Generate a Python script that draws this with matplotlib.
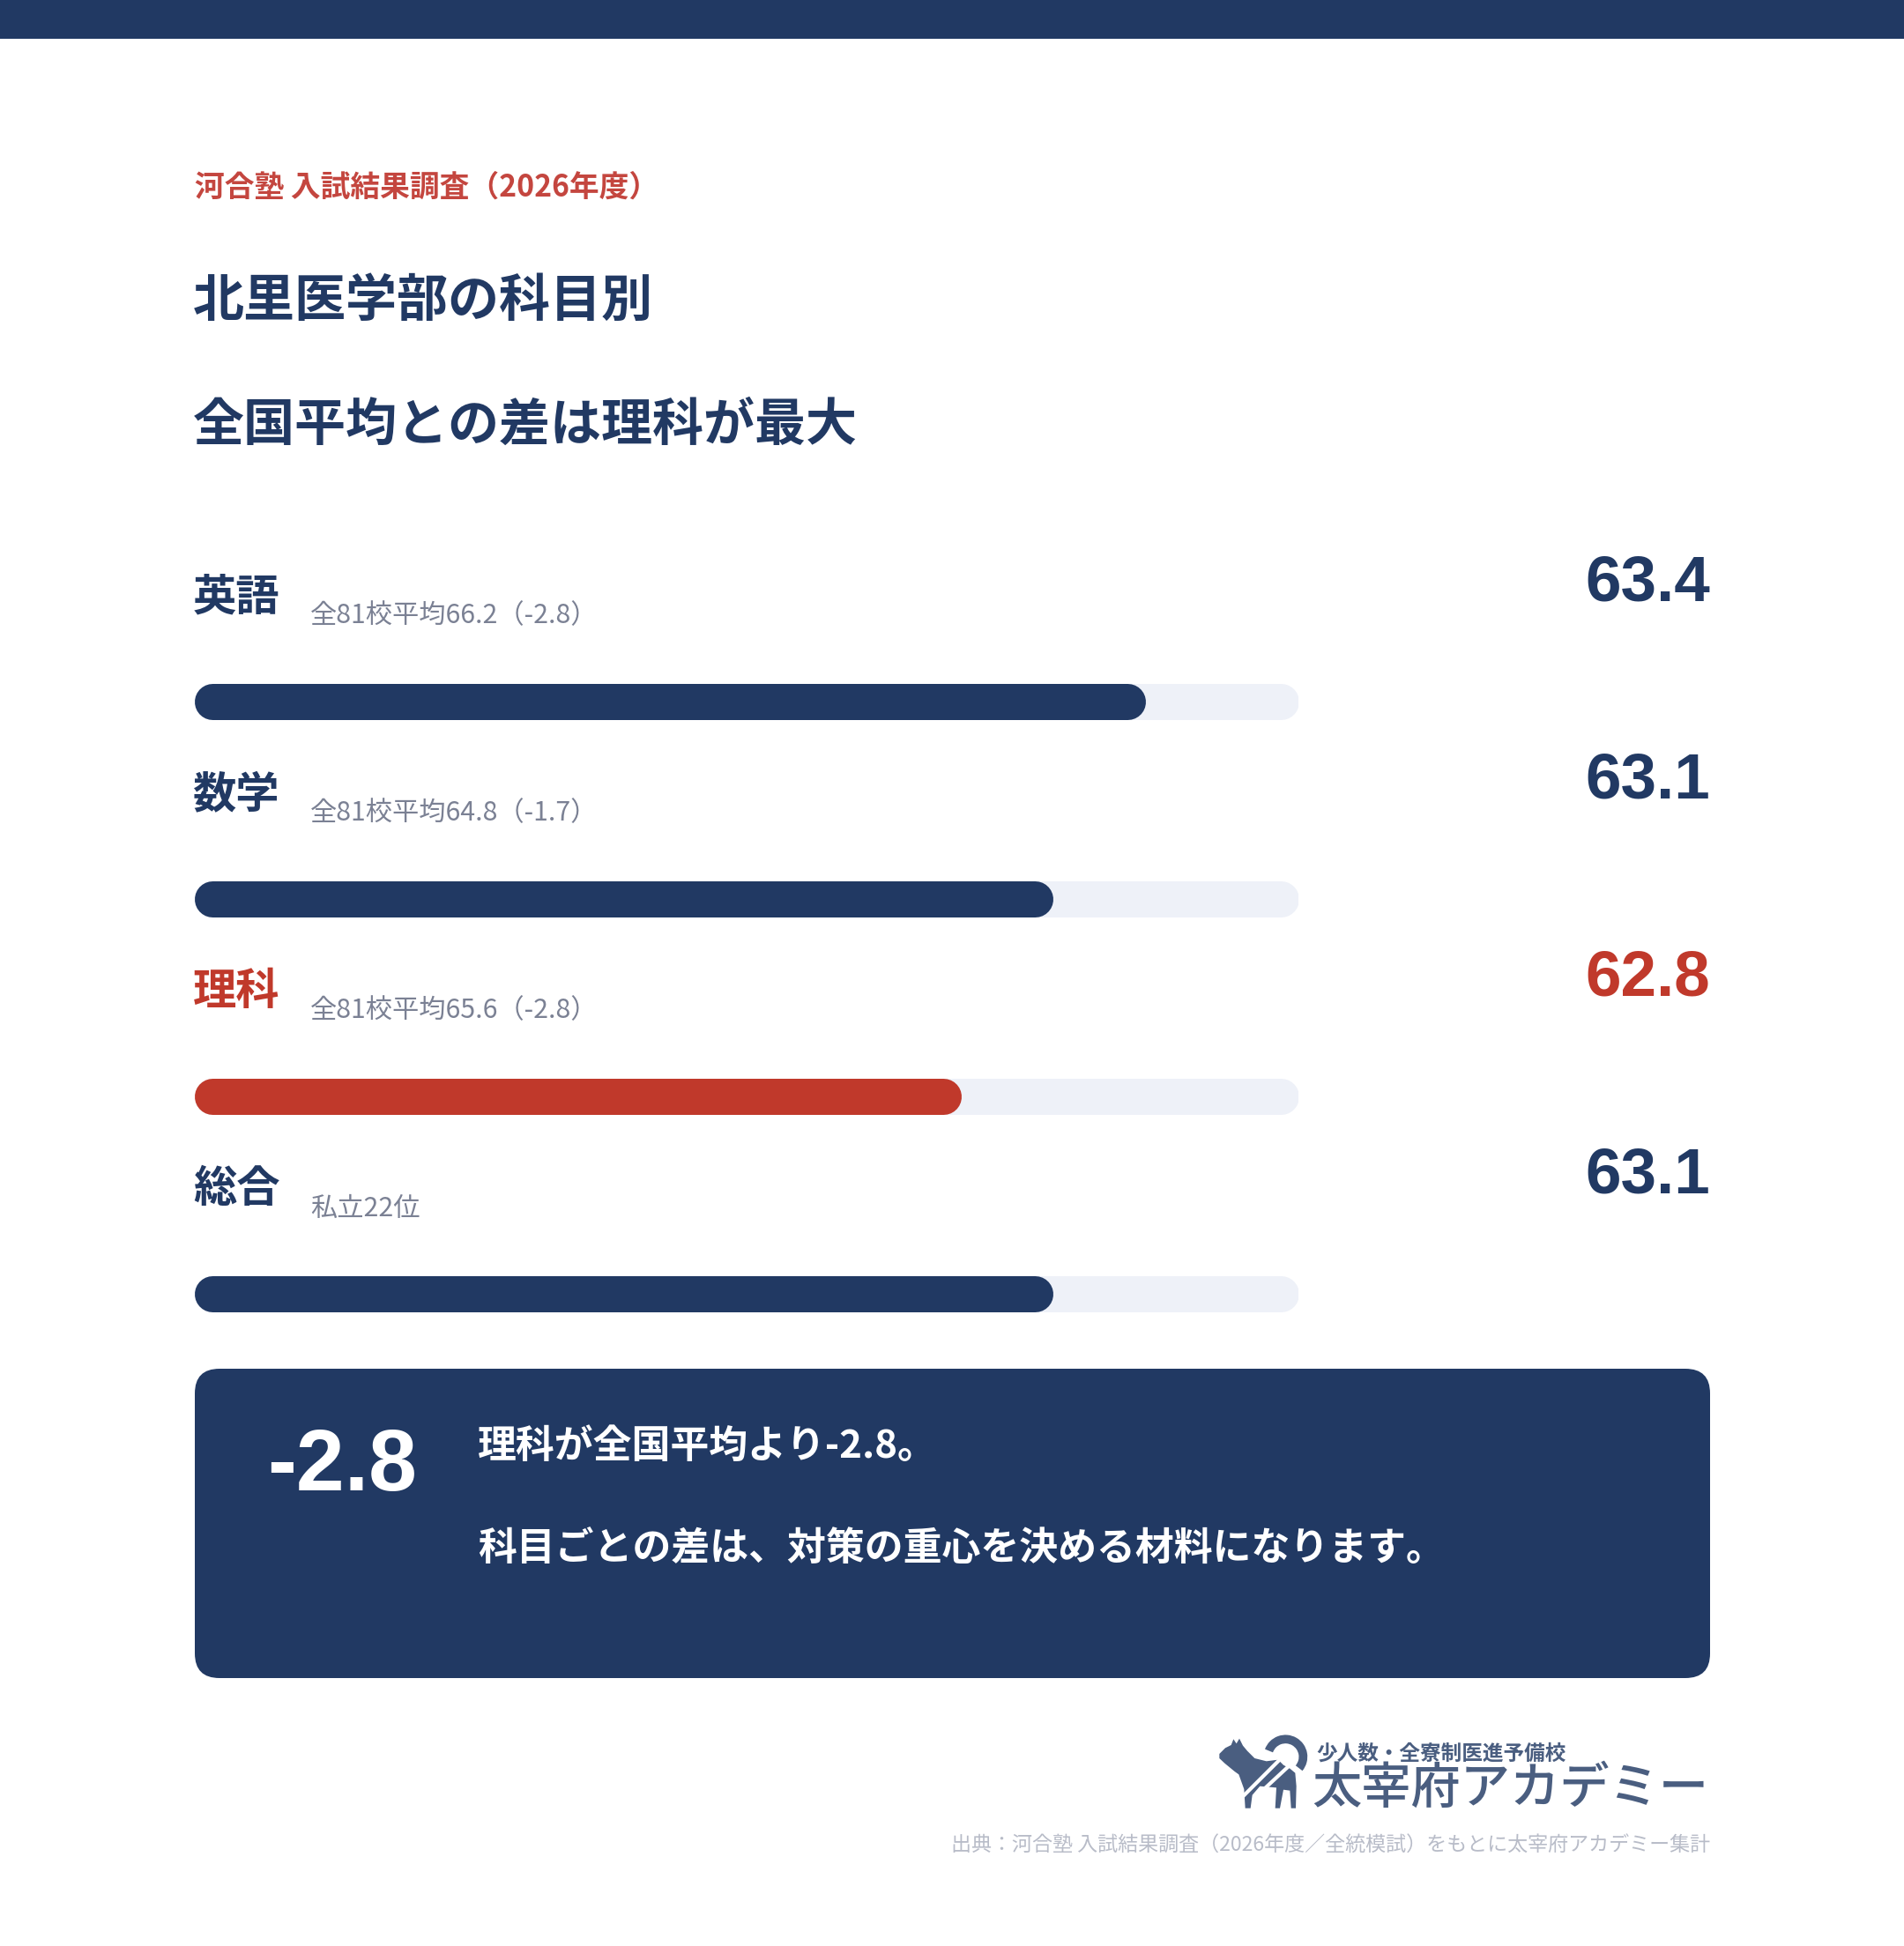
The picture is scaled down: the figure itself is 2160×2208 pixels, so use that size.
import matplotlib
matplotlib.use("Agg")
import matplotlib.pyplot as plt
from matplotlib.patches import FancyBboxPatch, Rectangle, Polygon, Arc

plt.rcParams['font.family'] = ['Noto Sans CJK JP', 'DejaVu Sans']

# データ
subjects = ['英語', '数学', '理科', '総合']
scores = [63.4, 63.1, 62.8, 63.1]
notes = ['全81校平均66.2（-2.8）', '全81校平均64.8（-1.7）', '全81校平均65.6（-2.8）', '私立22位']
highlight = [False, False, True, False]
scale_lo, scale_hi = 60.3, 63.9

source = '河合塾 入試結果調査（2026年度）'
title_lines = ['北里医学部の科目別', '全国平均との差は理科が最大']
box_value = '-2.8'
box_lines = ['理科が全国平均より-2.8。', '科目ごとの差は、対策の重心を決める材料になります。']
footer = '出典：河合塾 入試結果調査（2026年度／全統模試）をもとに太宰府アカデミー集計'

NAVY = '#213963'
RED = '#C0392B'
TRACK = '#EEF1F8'
GRAY = '#7B8194'
LOGO = '#4A5E80'

W, H = 2160, 2208
fig = plt.figure(figsize=(W / 100, H / 100), dpi=100)
fig.patch.set_facecolor('white')
ax = fig.add_axes([0, 0, 1, 1])
ax.set_xlim(0, W)
ax.set_ylim(H, 0)
ax.axis('off')

# 上の帯
ax.add_patch(Rectangle((0, 0), W, 44, color=NAVY, lw=0))

ax.text(221, 212, source, color='#C4463F', fontsize=24.3, fontweight='bold', va='center')
ax.text(219, 342, title_lines[0], color=NAVY, fontsize=41.8, fontweight='bold', va='center')
ax.text(219, 483, title_lines[1], color=NAVY, fontsize=41.8, fontweight='bold', va='center')

# バー
left_px, right_px = 221, 1473
bar_h = 41
axb = fig.add_axes([left_px / W, 0, (right_px - left_px) / W, 1])
axb.set_xlim(scale_lo, scale_hi)
axb.set_ylim(H, 0)
axb.axis('off')
r = (bar_h / 2) / ((right_px - left_px) / (scale_hi - scale_lo))
lw_pt = bar_h * 72 / 100

for i, (name, val, note, hl) in enumerate(zip(subjects, scores, notes, highlight)):
    yb = 796 + i * 224
    col = RED if hl else NAVY
    axb.plot([scale_lo + r, scale_hi - r], [yb, yb], color=TRACK, lw=lw_pt, solid_capstyle='round')
    axb.plot([scale_lo + r, val - r], [yb, yb], color=col, lw=lw_pt, solid_capstyle='round')
    ax.text(219, yb - 118, name, color=col, fontsize=35.5, fontweight='bold', va='center')
    ax.text(352, yb - 97, note, color=GRAY, fontsize=21.8, va='center')
    ax.text(1940, yb - 134, f'{val:.1f}', color=col, fontsize=52.5, fontweight='bold',
            family=['Liberation Sans', 'Noto Sans CJK JP'], ha='right', va='center')

# まとめボックス
ax.add_patch(FancyBboxPatch((221 + 28, 1553 + 28), 1719 - 56, 351 - 56,
                            boxstyle='round,pad=28', color=NAVY, lw=0))
ax.text(303, 1666, box_value, color='white', fontsize=71, fontweight='bold',
        family=['Liberation Sans', 'Noto Sans CJK JP'], va='center')
ax.text(542, 1641, box_lines[0], color='white', fontsize=31.6, fontweight='bold', va='center')
ax.text(542, 1758, box_lines[1], color='white', fontsize=31.6, fontweight='bold', va='center')

# ロゴ（犬のシルエット）
ox, oy, s = 1370, 1960, 1 / 3
dog = [(40, 90), (60, 70), (80, 60), (88, 40), (98, 55), (108, 38), (120, 62), (135, 80),
       (160, 105), (200, 115), (240, 110), (258, 128), (280, 140), (298, 155), (302, 200),
       (300, 275), (284, 275), (280, 215), (258, 212), (246, 275), (230, 275), (234, 205),
       (178, 200), (152, 230), (146, 275), (128, 275), (124, 210), (106, 160), (92, 150),
       (58, 122), (40, 105)]
ax.add_patch(Polygon([(ox + x * s, oy + y * s) for x, y in dog], closed=True, color=LOGO, lw=0))
ax.add_patch(Arc((ox + 265 * s, oy + 100 * s), 40, 40, theta1=-160, theta2=40,
                 color=LOGO, lw=7))
ax.plot([ox + 120 * s, ox + 250 * s], [oy + 235 * s, oy + 105 * s], color='white', lw=3)
ax.plot([ox + 165 * s, ox + 278 * s], [oy + 235 * s, oy + 130 * s], color='white', lw=3)

ax.text(1493, 1990, '少人数・全寮制医進予備校', color=LOGO, fontsize=17, fontweight='bold', va='center')
ax.text(1488, 2030, '太宰府アカデミー', color=LOGO, fontsize=40.5, fontweight='medium', va='center')

ax.text(1940, 2093, footer, color='#B8BCC8', fontsize=16.6, ha='right', va='center')

fig.savefig('out.png', dpi=100, facecolor='white')
